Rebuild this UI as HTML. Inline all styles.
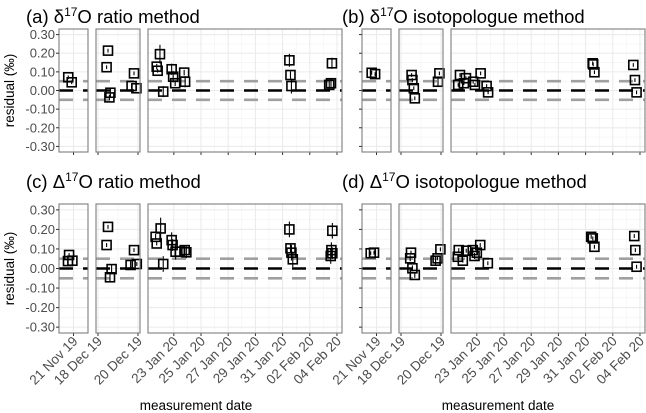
<!DOCTYPE html>
<html><head><meta charset="utf-8"><style>
body{margin:0;background:#fff}
svg{display:block;font-family:"Liberation Sans",sans-serif}
</style></head><body>
<svg id="chart" width="646" height="413"></svg>
<script>
// facet dates are days since 01 Nov 2019
const panelDomains=[[18.95,21.05],[46.9,49.1],[81.1,95.37]];
const tickDays=[[20],[47,49],[83,85,87,89,91,93,95]];
const tickLabels=[["21 Nov 19"],["18 Dec 19","20 Dec 19"],["23 Jan 20","25 Jan 20","27 Jan 20","29 Jan 20","31 Jan 20","02 Feb 20","04 Feb 20"]];
const yTicks=[0.3,0.2,0.1,0,-0.1,-0.2,-0.3];
const yTickLabels=["0.30","0.20","0.10","0.00","-0.10","-0.20","-0.30"];
const titlesGreek=["δ","δ","Δ","Δ"];
const titlesPrefix=["(a)  ","(b) ","(c)  ","(d) "];
const titlesSuffix=[" ratio method"," isotopologue method"," ratio method"," isotopologue method"];

const aDays=[19.62,19.87,47.5,47.43,47.62,47.57,48.8,48.68,48.92,81.74,81.81,81.98,82.22,82.84,82.95,83.1,83.76,83.83,91.5,91.58,91.65,94.63,94.56,94.43];
const aVals=[0.071,0.044,0.214,0.125,-0.012,-0.037,0.092,0.024,0.012,0.128,0.106,0.195,-0.006,0.114,0.074,0.039,0.096,0.047,0.162,0.083,0.024,0.146,0.039,0.03];
const aErrs=[0.01,0.01,0.01,0.01,0.02,0.015,0.01,0.01,0.01,0.015,0.01,0.05,0.03,0.03,0.03,0.015,0.015,0.03,0.035,0.02,0.04,0.03,0.02,0.02];

const bDays=[19.65,19.9,47.53,47.57,47.64,47.69,48.92,48.85,81.63,81.76,82.05,82.2,82.73,82.86,83.28,83.72,83.83,91.52,91.56,91.65,94.51,94.63,94.75];
const bVals=[0.095,0.088,0.083,0.056,0.012,-0.042,0.092,0.047,0.03,0.083,0.039,0.066,0.047,0.03,0.092,0.024,-0.01,0.146,0.14,0.098,0.137,0.056,-0.01];
const bErrs=[0.01,0.01,0.01,0.01,0.01,0.01,0.01,0.02,0.01,0.01,0.01,0.01,0.01,0.01,0.01,0.01,0.01,0.01,0.01,0.01,0.01,0.01,0.01];

const cDays=[19.68,19.6,19.92,47.5,47.43,47.68,47.6,48.8,48.63,48.94,81.66,81.74,82.03,82.22,82.84,82.91,83.13,83.44,83.8,83.92,91.5,91.58,91.65,91.75,94.66,94.59,94.66,94.54];
const cVals=[0.069,0.038,0.04,0.213,0.12,-0.003,-0.045,0.094,0.018,0.023,0.162,0.128,0.205,0.023,0.145,0.12,0.086,0.086,0.094,0.083,0.2,0.103,0.081,0.047,0.193,0.094,0.078,0.064];
const cErrs=[0.01,0.01,0.01,0.01,0.01,0.02,0.02,0.01,0.02,0.01,0.015,0.01,0.055,0.04,0.04,0.03,0.04,0.015,0.02,0.03,0.04,0.02,0.04,0.04,0.04,0.04,0.03,0.04];

const dDays=[19.58,19.82,47.5,47.46,47.57,47.69,48.97,48.73,48.83,81.67,81.6,81.97,82.22,82.7,82.83,83.0,83.25,83.81,91.41,91.53,91.65,94.58,94.66,94.75];
const dVals=[0.078,0.081,0.081,0.052,0.001,-0.033,0.098,0.04,0.052,0.094,0.06,0.04,0.091,0.094,0.064,0.081,0.12,0.027,0.162,0.154,0.111,0.166,0.094,0.009];
const dErrs=[0.01,0.01,0.01,0.015,0.015,0.015,0.01,0.025,0.01,0.01,0.01,0.01,0.01,0.015,0.015,0.01,0.01,0.01,0.01,0.01,0.01,0.01,0.01,0.01];

const NS="http://www.w3.org/2000/svg";
const svg=document.getElementById('chart');
function mk(tag,attrs,parent){const e=document.createElementNS(NS,tag);for(const k in attrs)e.setAttribute(k,attrs[k]);(parent||svg).appendChild(e);return e;}

const basePx=[[59,88],[96,140],[148,342]];
const rowsPx=[[29,152],[204,333]];
const yDom=[-0.33,0.33];
const facets=[[aDays,aVals,aErrs],[bDays,bVals,bErrs],[cDays,cVals,cErrs],[dDays,dVals,dErrs]];

facets.forEach((f,fi)=>{
  const col=fi%2,row=Math.floor(fi/2);
  const off=col*303;
  const [top,bot]=rowsPx[row];
  const yS=v=>bot-(v-yDom[0])/(yDom[1]-yDom[0])*(bot-top);
  const g=mk('g',{});
  
  
  const t=mk('text',{x:col?342:26,y:row?188:23,'font-size':18.5,fill:'#000'},g);
  
  
  t.appendChild(document.createTextNode(titlesPrefix[fi]+titlesGreek[fi]));
  const sup=mk('tspan',{dy:-7,'font-size':12},t);sup.textContent='17';
  const rest=mk('tspan',{dy:7},t);rest.textContent='O'+titlesSuffix[fi];
  panelDomains.forEach((dom,pi)=>{
    const x0=basePx[pi][0]+off,x1=basePx[pi][1]+off;
    const xS=d=>x0+(d-dom[0])/(dom[1]-dom[0])*(x1-x0);
    const pg=mk('g',{},g);
    
    
    mk('rect',{x:x0,y:top,width:x1-x0,height:bot-top,fill:'#fff'},pg);
    for(let i=0;i<yTicks.length-1;i++){const yy=yS((yTicks[i]+yTicks[i+1])/2);mk('line',{x1:x0,x2:x1,y1:yy,y2:yy,stroke:'#f2f2f2','stroke-width':0.6},pg);}
    const tk=tickDays[pi];
    for(let i=0;i<tk.length-1;i++){const xx=xS((tk[i]+tk[i+1])/2);mk('line',{x1:xx,x2:xx,y1:top,y2:bot,stroke:'#f2f2f2','stroke-width':0.6},pg);}
    yTicks.forEach(v=>{const yy=yS(v);mk('line',{x1:x0,x2:x1,y1:yy,y2:yy,stroke:'#ebebeb','stroke-width':1.1},pg);});
    tk.forEach((d,ti)=>{const xx=xS(d);mk('line',{x1:xx,x2:xx,y1:top,y2:bot,stroke:'#ebebeb','stroke-width':1.1},pg);
      mk('line',{x1:xx,x2:xx,y1:bot,y2:bot+3,stroke:'#333','stroke-width':1},pg);
      if(row===1){const lb=mk('text',{transform:`translate(${xx+5},${bot+9}) rotate(-45)`,'text-anchor':'end','font-size':13.5,fill:'#4d4d4d'},pg);
        
        
        lb.textContent=tickLabels[pi][ti];}
    });
    [[0.05,'#a0a0a0'],[-0.05,'#a0a0a0'],[0,'#000']].forEach(([v,c])=>{const yy=yS(v);
      const l=mk('line',{x1:x0,x2:x1,y1:yy,y2:yy,stroke:c,'stroke-width':2.6,'stroke-dasharray':'14 10'},pg);
      
      });
    f[0].forEach((d,i)=>{
      if(d<dom[0]||d>dom[1])return;
      const cx=xS(d),cy=yS(f[1][i]),e=f[2][i];
      const eb=mk('line',{x1:cx,x2:cx,y1:yS(f[1][i]+e),y2:yS(f[1][i]-e),stroke:'#000','stroke-width':1.1},pg);
      
      
      const p=mk('rect',{x:cx-4.5,y:cy-4.5,width:9,height:9,fill:'none',stroke:'#000','stroke-width':1.6},pg);
      
      
    });
    mk('rect',{x:x0,y:top,width:x1-x0,height:bot-top,fill:'none',stroke:'#7f7f7f','stroke-width':1.1},pg);
  });
  const y0=basePx[0][0]+off;
  yTicks.forEach((v,i)=>{const yy=yS(v);mk('line',{x1:y0-3,x2:y0,y1:yy,y2:yy,stroke:'#333','stroke-width':1},g);
    if(col===0){const lb=mk('text',{x:y0-4,y:yy+4.5,'text-anchor':'end','font-size':13,fill:'#4d4d4d'},g);
      
      
      lb.textContent=yTickLabels[i];}});
  if(col===0){const yt=mk('text',{transform:`translate(14,${(top+bot)/2}) rotate(-90)`,'text-anchor':'middle','font-size':13.5,fill:'#000'},g);
    
    
    yt.textContent='residual (‰)';}
  if(row===1){const xt=mk('text',{x:col?498:196,y:410,'text-anchor':'middle','font-size':13.5,fill:'#000'},g);
    
    
    xt.textContent='measurement date';}
});
</script>
</body></html>
